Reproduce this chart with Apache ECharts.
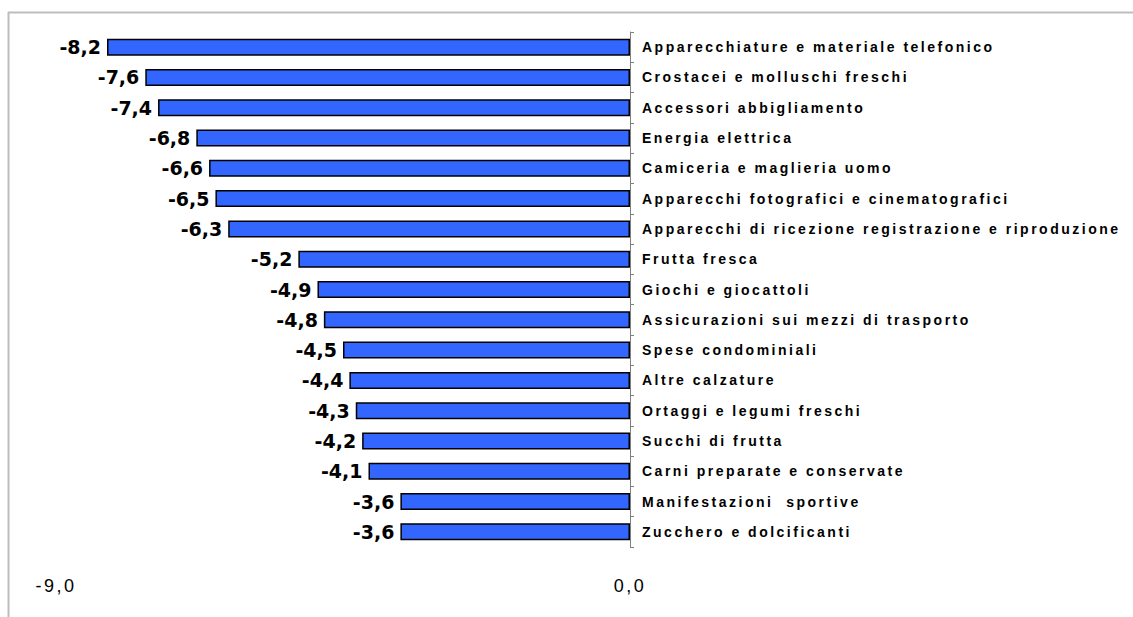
<!DOCTYPE html>
<html lang="it">
<head>
  <meta charset="UTF-8">
  <title>Variazioni</title>
  <style>
    html, body { margin: 0; padding: 0; background: #fff; }
    /* testo spaziato come nell'originale */
    #main svg text[text-anchor="start"] { letter-spacing: 2.5px; }
    #main svg text[text-anchor="middle"] { letter-spacing: 2.5px; }
  </style>
</head>
<body>
  <script src="https://cdn.jsdelivr.net/npm/echarts@6/dist/echarts.min.js"></script>
  <div id="main" style="width: 1133px;height:617px;"></div>
  <script type="text/javascript">
      // categorie e valori (variazioni percentuali)
      var categorie = [
        'Apparecchiature e materiale telefonico',
        'Crostacei e molluschi freschi',
        'Accessori abbigliamento',
        'Energia elettrica',
        'Camiceria e maglieria uomo',
        'Apparecchi fotografici e cinematografici',
        'Apparecchi di ricezione registrazione e riproduzione',
        'Frutta fresca',
        'Giochi e giocattoli',
        'Assicurazioni sui mezzi di trasporto',
        'Spese condominiali',
        'Altre calzature',
        'Ortaggi e legumi freschi',
        'Succhi di frutta',
        'Carni preparate e conservate',
        'Manifestazioni  sportive',
        'Zucchero e dolcificanti'
      ];
      var valori = [-8.2, -7.6, -7.4, -6.8, -6.6, -6.5, -6.3, -5.2, -4.9, -4.8, -4.5, -4.4, -4.3, -4.2, -4.1, -3.6, -3.6];
      var assexMin = -9;
      var assexMax = 0;

      function virgola(v, dec) {
        return Number(v).toFixed(dec).replace('.', ',');
      }

      var myChart = echarts.init(document.getElementById('main'), null, { renderer: 'svg' });

      var option = {
        animation: false,
        grid: { left: 56, right: 503, top: 32, bottom: 70 },
        // cornice grigia (bordo superiore e sinistro)
        graphic: [{
          type: 'line',
          shape: { x1: 8, y1: 12.5, x2: 1133, y2: 12.5 },
          style: { stroke: '#bdbdbd', lineWidth: 2 },
          silent: true
        }, {
          type: 'line',
          shape: { x1: 8.5, y1: 12, x2: 8.5, y2: 617 },
          style: { stroke: '#bdbdbd', lineWidth: 2 },
          silent: true
        }],
        xAxis: {
          type: 'value',
          min: assexMin,
          max: assexMax,
          interval: 9,
          axisLine: { show: false },
          axisTick: { show: false },
          splitLine: { show: false },
          axisLabel: {
            margin: 30,
            fontFamily: 'Liberation Sans',
            fontSize: 18,
            color: '#000',
            formatter: function (v) { return virgola(v, 1); }
          }
        },
        yAxis: {
          type: 'category',
          data: categorie,
          inverse: true,
          position: 'right',
          axisLine: { show: true, onZero: false, lineStyle: { color: '#808080', width: 1 } },
          axisTick: { show: true, length: 4, lineStyle: { color: '#808080' } },
          axisLabel: {
            margin: 12,
            fontFamily: 'Liberation Sans',
            fontWeight: 'bold',
            fontSize: 14,
            color: '#000'
          }
        },
        series: [{
          type: 'bar',
          data: valori,
          barWidth: 17,
          itemStyle: { color: '#3366ff', borderColor: '#000', borderWidth: 1.5 },
          label: {
            show: true,
            position: 'left',
            distance: 6,
            fontFamily: 'DejaVu Sans',
            fontWeight: 'bold',
            fontSize: 19,
            color: '#000',
            formatter: function (p) { return virgola(p.value, 1); }
          }
        }]
      };

      myChart.setOption(option);
  </script>
</body>
</html>
